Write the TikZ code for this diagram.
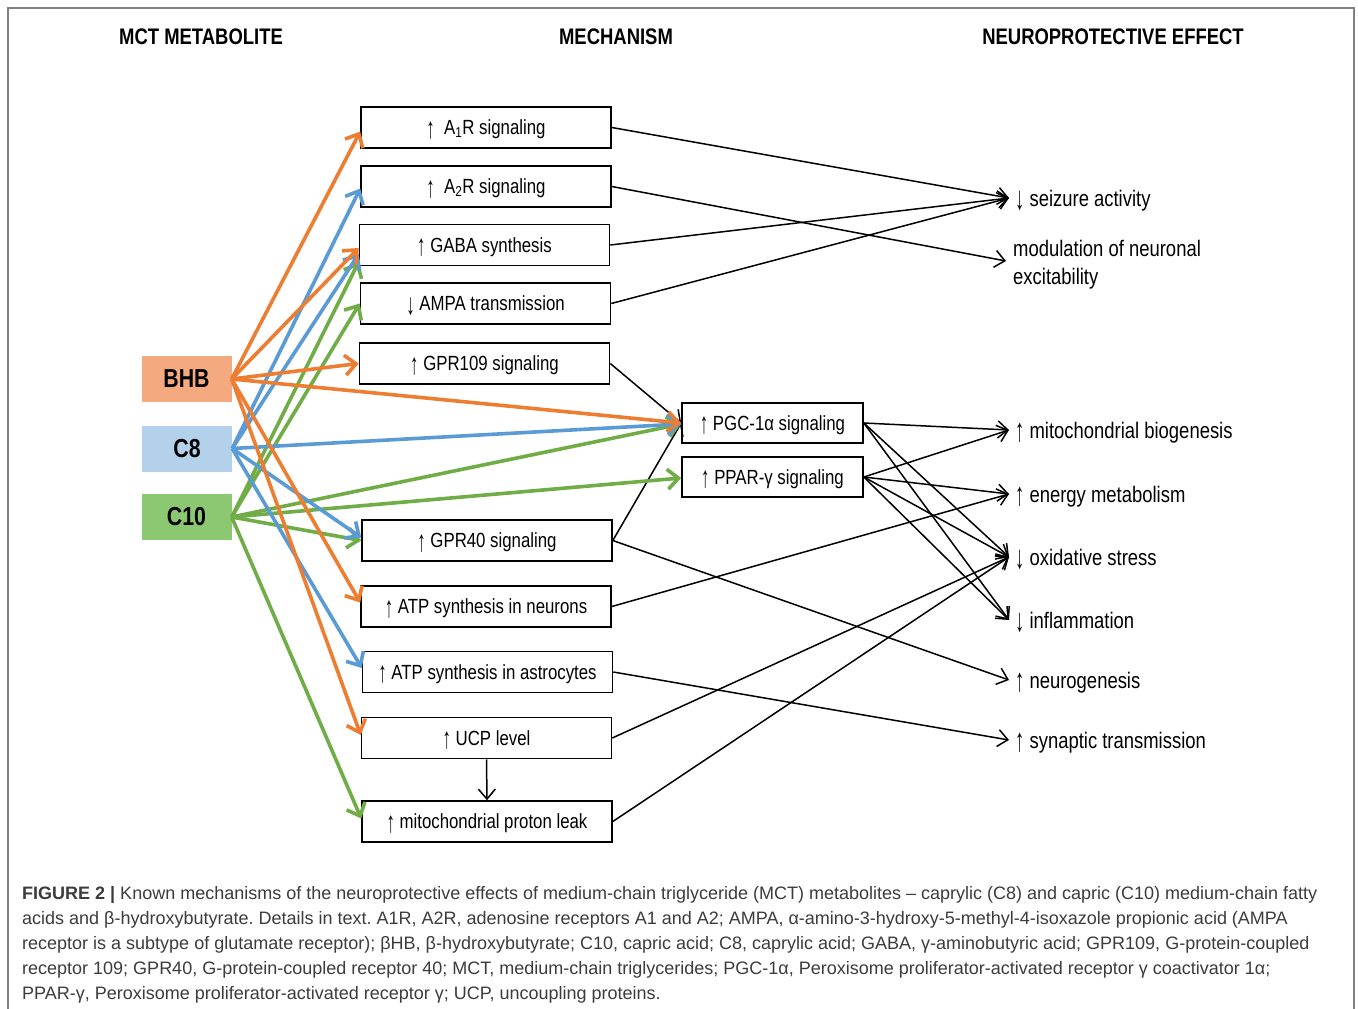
\documentclass[tikz,border=0pt]{standalone}
\usepackage{fontspec}
\setmainfont{Liberation Sans}
\newfontfamily\nfont[FakeStretch=0.82]{Liberation Sans}
\usetikzlibrary{arrows.meta}
\definecolor{cOr}{HTML}{ED7D31}
\definecolor{cBl}{HTML}{5B9BD5}
\definecolor{cGr}{HTML}{70AD47}
\definecolor{fOr}{HTML}{F4A97F}
\definecolor{fBl}{HTML}{B4D1EC}
\definecolor{fGr}{HTML}{8CC872}
\definecolor{capgray}{HTML}{3C3C3C}
\definecolor{framegray}{HTML}{808080}
\newcommand\myUp{\raisebox{-0.16em}{\scalebox{1}[1.45]{↑}}}
\newcommand\myDn{\raisebox{-0.16em}{\scalebox{1}[1.45]{↓}}}
\frenchspacing
\begin{document}
\begin{tikzpicture}[x=1pt,y=-1pt,
  mbox/.style={draw, line width=1.6pt, minimum width=250pt, minimum height=41pt, inner sep=0pt, text height=14.7pt, text depth=0pt, font=\nfont\fontsize{20.5}{24}\selectfont},
  pbox/.style={mbox, minimum width=181pt, minimum height=40pt},
  src/.style={minimum width=90pt, minimum height=46pt, inner sep=0pt, font=\nfont\bfseries\fontsize{26}{30}\selectfont},
  eff/.style={anchor=west, inner xsep=6pt, inner ysep=0pt, font=\nfont\fontsize{22.5}{28}\selectfont, align=left},
  eff1/.style={eff, text height=16.1pt, text depth=0pt},
  hdr/.style={font=\nfont\bfseries\fontsize{22.5}{26}\selectfont},
  blk/.style={line width=1.5pt, -{Straight Barb[length=10pt,width=17pt]}},
  col/.style={line width=3.6pt, -{Straight Barb[length=11pt,width=20pt]}},
  capt/.style={anchor=base west, inner sep=0pt, font=\fontsize{18}{25}\selectfont, text=capgray}
]
\useasboundingbox (0,0) rectangle (1358,1009);
\fill[white] (0,0) rectangle (1358,1009);
\draw[framegray, line width=1.5pt] (8,1009) -- (8,8) -- (1354,8) -- (1354,1009);

% headers
\node[hdr] (h1) at (201,37) {MCT METABOLITE};
\node[hdr] (h2) at (616,37) {MECHANISM};
\node[hdr] (h3) at (1113,37) {NEUROPROTECTIVE EFFECT};

% sources
\node[src, fill=fOr] (bhb) at (186.5,379) {BHB};
\node[src, fill=fBl] (c8) at (187,448.5) {C8};
\node[src, fill=fGr] (c10) at (186.5,517) {C10};

% mechanism boxes
\node[mbox] (a1r) at (486,127.5) {\myUp\ \ A\textsubscript{1}R signaling};
\node[mbox] (a2r) at (486,186.5) {\myUp\ \ A\textsubscript{2}R signaling};
\node[mbox] (gaba) at (484.5,245) {\myUp\ GABA synthesis};
\node[mbox] (ampa) at (485.5,303.5) {\myDn\ AMPA transmission};
\node[mbox] (g109) at (484.5,363.5) {\myUp\ GPR109 signaling};
\node[mbox] (g40) at (487,540.5) {\myUp\ GPR40 signaling};
\node[mbox] (atpn) at (486,606.5) {\myUp\ ATP synthesis in neurons};
\node[mbox] (atpa) at (487.5,672) {\myUp\ ATP synthesis in astrocytes};
\node[mbox] (ucp) at (486.5,738) {\myUp\ UCP level};
\node[mbox] (leak) at (487,821.5) {\myUp\ mitochondrial proton leak};
\node[pbox] (pgc) at (772.5,423) {\myUp\ PGC-1α signaling};
\node[pbox] (ppar) at (772.5,477) {\myUp\ PPAR-γ signaling};

% effects
\node[eff1] (seiz) at (1009,198) {\myDn\ seizure activity};
\node[eff, inner xsep=7pt] (mod) at (1006,265) {modulation of neuronal\\excitability};
\node[eff1] (mito) at (1009,430) {\myUp\ mitochondrial biogenesis};
\node[eff1] (energy) at (1009,494) {\myUp\ energy metabolism};
\node[eff1] (oxid) at (1009,557) {\myDn\ oxidative stress};
\node[eff1] (infl) at (1009,620) {\myDn\ inflammation};
\node[eff1] (neuro) at (1009,680) {\myUp\ neurogenesis};
\node[eff1] (syn) at (1009,740) {\myUp\ synaptic transmission};

% black connectors
\draw[blk] (a1r.east) -- (seiz.west);
\draw[blk] (gaba.east) -- (seiz.west);
\draw[blk] (ampa.east) -- (seiz.west);
\draw[blk] (a2r.east) -- ([yshift=4pt]mod.west);
\draw[blk] (g109.east) -- (pgc.west);
\draw[blk] (g40.east) -- (pgc.west);
\draw[blk] (pgc.east) -- (mito.west);
\draw[blk] (pgc.east) -- (oxid.west);
\draw[blk] (pgc.east) -- (infl.west);
\draw[blk] (ppar.east) -- (mito.west);
\draw[blk] (ppar.east) -- (energy.west);
\draw[blk] (ppar.east) -- (oxid.west);
\draw[blk] (ppar.east) -- (infl.west);
\draw[blk] (atpn.east) -- (energy.west);
\draw[blk] (g40.east) -- (neuro.west);
\draw[blk] (atpa.east) -- (syn.west);
\draw[blk] (ucp.east) -- (oxid.west);
\draw[blk] (leak.east) -- (oxid.west);
\draw[blk] (ucp.south) -- (leak.north);

% C10 (green)
\draw[col, cGr] (c10.east) -- ([yshift=-17pt]gaba.west);
\draw[col, cGr] (c10.east) -- (ampa.west);
\draw[col, cGr] (c10.east) -- ([yshift=-1pt]pgc.west);
\draw[col, cGr] (c10.east) -- ([yshift=-1pt]ppar.west);
\draw[col, cGr] (c10.east) -- (g40.west);
\draw[col, cGr] (c10.east) -- ([yshift=3pt]leak.west);
% C8 (blue)
\draw[col, cBl] (c8.east) -- ([yshift=-2pt]a2r.west);
\draw[col, cBl] (c8.east) -- ([yshift=-9pt]gaba.west);
\draw[col, cBl] (c8.east) -- ([yshift=-1pt]pgc.west);
\draw[col, cBl] (c8.east) -- ([yshift=3pt]g40.west);
\draw[col, cBl] (c8.east) -- ([yshift=4pt]atpa.west);
% BHB (orange)
\draw[col, cOr] (bhb.east) -- ([yshift=-4pt]a1r.west);
\draw[col, cOr] (bhb.east) -- ([yshift=-3pt]gaba.west);
\draw[col, cOr] (bhb.east) -- (g109.west);
\draw[col, cOr] (bhb.east) -- (pgc.west);
\draw[col, cOr] (bhb.east) -- ([yshift=4pt]atpn.west);
\draw[col, cOr] (bhb.east) -- ([yshift=3pt]ucp.west);

% caption
\node[capt] (cap1) at (22,899) {\textbf{FIGURE 2 |} Known mechanisms of the neuroprotective effects of medium-chain triglyceride (MCT) metabolites – caprylic (C8) and capric (C10) medium-chain fatty};
\node[capt] (cap2) at (22,924) {acids and β-hydroxybutyrate. Details in text. A1R, A2R, adenosine receptors A1 and A2; AMPA, α-amino-3-hydroxy-5-methyl-4-isoxazole propionic acid (AMPA};
\node[capt] (cap3) at (22,949) {receptor is a subtype of glutamate receptor); βHB, β-hydroxybutyrate; C10, capric acid; C8, caprylic acid; GABA, γ-aminobutyric acid; GPR109, G-protein-coupled};
\node[capt] (cap4) at (22,974) {receptor 109; GPR40, G-protein-coupled receptor 40; MCT, medium-chain triglycerides; PGC-1α, Peroxisome proliferator-activated receptor γ coactivator 1α;};
\node[capt] (cap5) at (22,999) {PPAR-γ, Peroxisome proliferator-activated receptor γ; UCP, uncoupling proteins.};
\end{tikzpicture}
\end{document}
